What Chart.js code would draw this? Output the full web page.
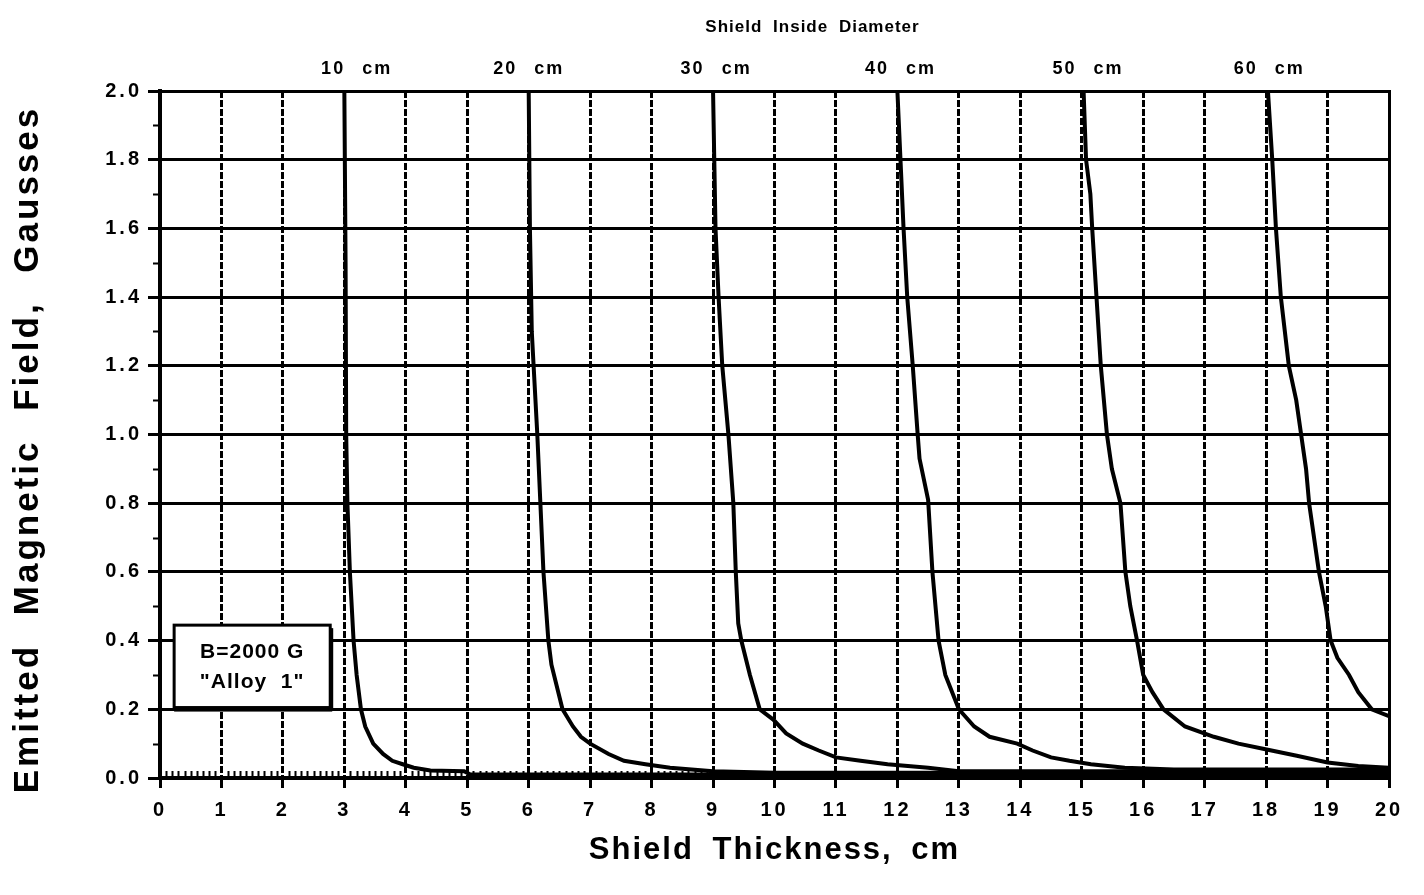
<!DOCTYPE html>
<html>
<head>
<meta charset="utf-8">
<script src="https://cdn.jsdelivr.net/npm/chart.js@4.4.1/dist/chart.umd.min.js"></script>
<style>
html, body { margin: 0; padding: 0; background: #ffffff; }
#wrap { width: 1424px; height: 895px; position: relative; }
</style>
</head>
<body>
<div id="wrap"><canvas id="chart"></canvas></div>
<script>
// ---- Data (Shield thickness in cm, emitted field in gauss) ----
const thickness10 = [3.0, 3.02, 3.03, 3.05, 3.09, 3.15, 3.2, 3.27, 3.34, 3.47, 3.63, 3.78, 3.95, 4.13, 4.4, 4.95, 5.05, 8.0, 12.0, 16.0, 20.0];
const field10     = [2.0, 1.5, 1.0, 0.8, 0.6, 0.4, 0.3, 0.2, 0.15, 0.1, 0.07, 0.05, 0.04, 0.03, 0.022, 0.02, 0.01, 0.01, 0.01, 0.01, 0.01];

const thickness20 = [6.0, 6.02, 6.05, 6.08, 6.14, 6.19, 6.24, 6.32, 6.37, 6.55, 6.72, 6.85, 7.0, 7.3, 7.55, 7.9, 8.3, 9.0, 10.0, 14.0, 20.0];
const field20     = [2.0, 1.6, 1.3, 1.2, 1.0, 0.8, 0.6, 0.4, 0.33, 0.2, 0.15, 0.12, 0.1, 0.07, 0.05, 0.04, 0.03, 0.02, 0.015, 0.015, 0.015];

const thickness30 = [9.0, 9.02, 9.04, 9.09, 9.15, 9.25, 9.33, 9.37, 9.41, 9.46, 9.6, 9.76, 9.98, 10.19, 10.46, 10.72, 11.0, 11.4, 11.84, 12.5, 13.0, 16.0, 20.0];
const field30     = [2.0, 1.8, 1.6, 1.4, 1.2, 1.0, 0.8, 0.6, 0.45, 0.4, 0.3, 0.2, 0.17, 0.13, 0.1, 0.08, 0.06, 0.05, 0.04, 0.03, 0.02, 0.02, 0.02];

const thickness40 = [12.0, 12.05, 12.1, 12.16, 12.25, 12.33, 12.36, 12.5, 12.57, 12.67, 12.78, 13.0, 13.25, 13.5, 13.95, 14.2, 14.5, 14.8, 15.15, 15.7, 16.5, 20.0];
const field40     = [2.0, 1.8, 1.6, 1.4, 1.2, 1.0, 0.93, 0.81, 0.6, 0.4, 0.3, 0.2, 0.15, 0.12, 0.1, 0.08, 0.06, 0.05, 0.04, 0.03, 0.025, 0.025];

const thickness50 = [15.03, 15.07, 15.14, 15.17, 15.24, 15.31, 15.41, 15.49, 15.63, 15.71, 15.79, 15.9, 16.0, 16.15, 16.33, 16.68, 17.15, 17.55, 17.95, 18.5, 19.0, 19.5, 20.0];
const field50     = [2.0, 1.8, 1.7, 1.6, 1.4, 1.2, 1.0, 0.9, 0.8, 0.6, 0.5, 0.4, 0.3, 0.25, 0.2, 0.15, 0.12, 0.1, 0.085, 0.065, 0.045, 0.035, 0.03];

const thickness60 = [18.03, 18.1, 18.16, 18.24, 18.37, 18.49, 18.57, 18.65, 18.7, 18.86, 18.97, 19.05, 19.16, 19.35, 19.5, 19.72, 20.0];
const field60     = [2.0, 1.8, 1.6, 1.4, 1.2, 1.1, 1.0, 0.9, 0.8, 0.6, 0.5, 0.4, 0.35, 0.3, 0.25, 0.2, 0.18];

const diameterLabels = ['10 cm', '20 cm', '30 cm', '40 cm', '50 cm', '60 cm'];
const diameterLabelAt = [3.2, 6.0, 9.05, 12.05, 15.1, 18.05];

const noteLines = ['B=2000 G', '"Alloy  1"'];

// ---- Styling / layout constants ----
const FONT = '"Liberation Sans", Arial, Helvetica, sans-serif';
const INK = '#000000';

const seriesList = [
  [thickness10, field10],
  [thickness20, field20],
  [thickness30, field30],
  [thickness40, field40],
  [thickness50, field50],
  [thickness60, field60]
];

const datasets = seriesList.map(([xs, ys], k) => ({
  label: diameterLabels[k],
  data: xs.map((x, i) => ({ x: x, y: ys[i] })),
  borderColor: INK,
  borderWidth: 4,
  pointRadius: 0,
  tension: 0,
  fill: false
}));

// minor tick marks, placed through the scales
const minorTicks = {
  id: 'minorTicks',
  beforeDatasetsDraw(chart) {
    const { ctx, chartArea, scales } = chart;
    const xs = scales.x, ys = scales.y;
    ctx.save();
    ctx.strokeStyle = INK;
    ctx.lineWidth = 2;
    ctx.beginPath();
    for (let i = 1; i < 200; i++) {
      if (i % 10 === 0) continue;
      const px = Math.round(xs.getPixelForValue(i / 10)) + 0.5;
      ctx.moveTo(px, chartArea.bottom);
      ctx.lineTo(px, chartArea.bottom - 7);
    }
    for (let i = 1; i < 20; i += 2) {
      const py = Math.round(ys.getPixelForValue(i / 10)) + 0.5;
      ctx.moveTo(chartArea.left - 7, py);
      ctx.lineTo(chartArea.left, py);
    }
    ctx.stroke();
    ctx.restore();
  }
};

// annotation box "B=2000 G / Alloy 1"
const noteBox = { x0: 0.23, x1: 2.77, y0: 0.205, y1: 0.445 };
const noteBoxPlugin = {
  id: 'noteBox',
  afterDatasetsDraw(chart) {
    const { ctx, scales } = chart;
    const L = scales.x.getPixelForValue(noteBox.x0);
    const R = scales.x.getPixelForValue(noteBox.x1);
    const T = scales.y.getPixelForValue(noteBox.y1);
    const B = scales.y.getPixelForValue(noteBox.y0);
    ctx.save();
    ctx.fillStyle = '#ffffff';
    ctx.fillRect(L, T, R - L, B - T);
    ctx.strokeStyle = INK;
    ctx.lineWidth = 3;
    ctx.strokeRect(L, T, R - L, B - T);
    ctx.fillStyle = INK;
    ctx.fillRect(L, B - 1, R - L + 2, 5);
    ctx.fillRect(R - 1, T + 3, 4, B - T);
    ctx.font = 'bold 21px ' + FONT;
    ctx.textAlign = 'center';
    ctx.textBaseline = 'middle';
    try { ctx.letterSpacing = '1px'; } catch (e) {}
    const cx = (L + R) / 2;
    ctx.fillText(noteLines[0], cx, T + (B - T) * 0.33);
    ctx.fillText(noteLines[1], cx, T + (B - T) * 0.69);
    ctx.restore();
  }
};

// letter / word spacing for the typewriter-like lettering of the original
const textSpacing = {
  x:    { labels: [3, 0],  title: [2, 8],  shift: [0, 0] },
  y:    { labels: [3, 0],  title: [3, 16], shift: [0, 15] },
  xTop: { labels: [2, 10], title: [1, 5],  shift: [38, 0] }
};
const spacingPlugin = {
  id: 'spacing',
  beforeDraw(chart) {
    for (const id in textSpacing) {
      const s = chart.scales[id];
      if (!s || s.__spaced) continue;
      s.__spaced = true;
      const cfg = textSpacing[id];
      const proto = Object.getPrototypeOf(s);
      s.drawLabels = function (area) {
        const ctx = this.ctx;
        ctx.save();
        ctx.letterSpacing = cfg.labels[0] + 'px';
        ctx.wordSpacing = cfg.labels[1] + 'px';
        proto.drawLabels.call(this, area);
        ctx.restore();
      };
      s.drawTitle = function () {
        const ctx = this.ctx;
        ctx.save();
        ctx.letterSpacing = cfg.title[0] + 'px';
        ctx.wordSpacing = cfg.title[1] + 'px';
        ctx.translate(cfg.shift[0], cfg.shift[1]);
        proto.drawTitle.call(this);
        ctx.restore();
      };
    }
  }
};

Chart.defaults.font.family = FONT;
Chart.defaults.color = INK;

new Chart(document.getElementById('chart'), {
  type: 'line',
  data: { datasets: datasets },
  options: {
    responsive: true,
    maintainAspectRatio: false,
    animation: false,
    devicePixelRatio: 1,
    layout: { padding: { left: 0, right: 35, top: 0, bottom: 0 } },
    plugins: {
      legend: { display: false },
      tooltip: { enabled: false }
    },
    scales: {
      x: {
        type: 'linear',
        position: 'bottom',
        min: 0,
        max: 20,
        afterFit(scale) { scale.height = 117; },
        ticks: {
          stepSize: 1,
          autoSkip: false,
          maxRotation: 0,
          padding: 10,
          color: INK,
          font: { size: 20, weight: 'bold' }
        },
        grid: {
          color: INK,
          lineWidth: 3,
          drawTicks: true,
          tickLength: 10,
          tickWidth: 3,
          tickColor: INK
        },
        border: { display: true, color: INK, width: 4, dash: [7, 2] },
        title: {
          display: true,
          text: 'Shield Thickness, cm',
          color: INK,
          font: { size: 31, weight: 'bold' },
          padding: { top: 0, bottom: 26 }
        }
      },
      xTop: {
        type: 'linear',
        position: 'top',
        min: 0,
        max: 20,
        afterFit(scale) { scale.height = 91; },
        afterBuildTicks(scale) {
          scale.ticks = diameterLabelAt.map(v => ({ value: v }));
        },
        ticks: {
          autoSkip: false,
          maxRotation: 0,
          padding: 11,
          color: INK,
          font: { size: 18, weight: 'bold' },
          callback: (value, index) => diameterLabels[index]
        },
        grid: { display: false, drawTicks: false },
        border: { display: false },
        title: {
          display: true,
          text: 'Shield Inside Diameter',
          color: INK,
          font: { size: 17, weight: 'bold' },
          padding: { top: 17, bottom: 0 }
        }
      },
      y: {
        type: 'linear',
        position: 'left',
        min: 0,
        max: 2,
        afterFit(scale) { scale.width = 160; },
        ticks: {
          stepSize: 0.2,
          padding: 6,
          color: INK,
          font: { size: 20, weight: 'bold' },
          callback: (value) => Number(value).toFixed(1)
        },
        grid: {
          color: INK,
          lineWidth: 3,
          drawTicks: true,
          tickLength: 12,
          tickWidth: 3,
          tickColor: INK
        },
        border: { display: true, color: INK, width: 4 },
        title: {
          display: true,
          text: 'Emitted Magnetic Field, Gausses',
          color: INK,
          font: { size: 35, weight: 'bold' },
          padding: { top: 7, bottom: 0 }
        }
      },
      yRight: {
        type: 'linear',
        position: 'right',
        min: 0,
        max: 2,
        afterFit(scale) { scale.width = 0; },
        ticks: { display: false },
        grid: { drawOnChartArea: false, drawTicks: false },
        border: { display: true, color: INK, width: 3 }
      }
    }
  },
  plugins: [minorTicks, noteBoxPlugin, spacingPlugin]
});
</script>
</body>
</html>
